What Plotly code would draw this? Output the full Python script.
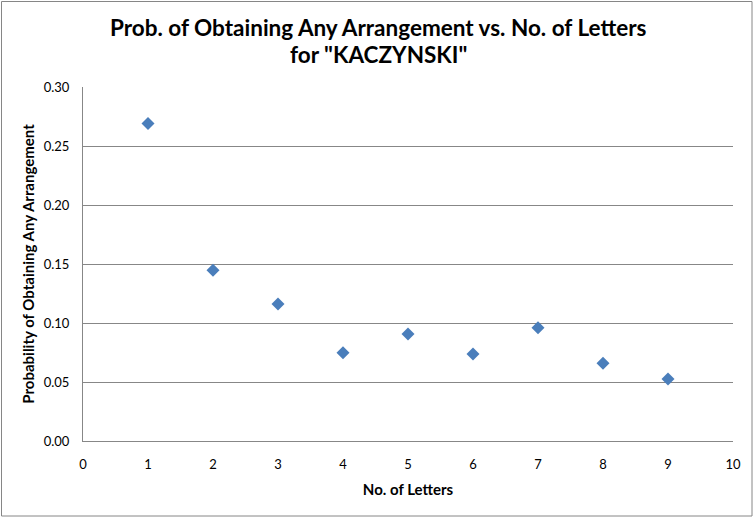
import plotly.graph_objects as go

letters = [1, 2, 3, 4, 5, 6, 7, 8, 9]
probability = [0.269, 0.1448, 0.116, 0.0748, 0.0906, 0.0737, 0.0959, 0.0658, 0.0525]
x_ticks = [0, 1, 2, 3, 4, 5, 6, 7, 8, 9, 10]
y_ticks = [0.00, 0.05, 0.10, 0.15, 0.20, 0.25, 0.30]

title_lines = ['Prob. of Obtaining Any Arrangement vs. No. of Letters', 'for "KACZYNSKI"']

W, H = 756, 518
L, R, T, B = 83, 23, 87, 77
pw, ph = W - L - R, H - T - B

fig = go.Figure()
fig.add_trace(go.Scatter(
    x=letters, y=probability, mode="markers",
    marker=dict(symbol="diamond", size=10, color="#4A7EBB",
                line=dict(width=0)),
    showlegend=False,
))

font_family = "Lato, 'Open Sans', sans-serif"
grid = "#878787"

annotations = []
for line_text, ypx in zip(title_lines, [27, 55]):
    annotations.append(dict(
        text=line_text, xref="paper", yref="paper",
        x=(378 - L) / pw, y=(H - B - ypx) / ph, xanchor="center", yanchor="middle",
        showarrow=False,
        font=dict(family=font_family, size=22.5, color="#000000", weight="bold"),
    ))

fig.update_layout(
    width=W, height=H,
    margin=dict(l=L, r=R, t=T, b=B, pad=0),
    paper_bgcolor="white", plot_bgcolor="white",
    font=dict(family=font_family, size=13, color="#000000"),
    annotations=annotations,
    xaxis=dict(
        range=[0, 10], tickvals=x_ticks, ticktext=[str(v) for v in x_ticks],
        showgrid=False, zeroline=False, showline=True, linecolor=grid, linewidth=1,
        ticks="", ticklabelstandoff=11,
        tickfont=dict(size=13, color="#000000"),
        title=dict(text="No. of Letters", standoff=13,
                   font=dict(size=15, weight="bold", color="#000000")),
    ),
    yaxis=dict(
        range=[0, 0.30], tickvals=y_ticks, ticktext=[f"{v:.2f}" for v in y_ticks],
        showgrid=True, gridcolor=grid, gridwidth=1,
        zeroline=False, showline=True, linecolor=grid, linewidth=1,
        ticks="inside", ticklen=5, tickcolor=grid, ticklabelstandoff=10,
        tickfont=dict(size=13, color="#000000"),
        title=dict(text="Probability of Obtaining Any Arrangement", standoff=5,
                   font=dict(size=15, weight="bold", color="#000000")),
    ),
    shapes=[dict(
        type="rect", xref="paper", yref="paper",
        x0=(1.5 - L) / pw, x1=(752 - L) / pw,
        y0=(H - B - 516) / ph, y1=(H - B - 1.5) / ph,
        line=dict(color="#868686", width=1), fillcolor="rgba(0,0,0,0)", layer="below",
    )],
)

fig.write_html("out.html", config={"displayModeBar": False},
               post_script="document.body.style.margin='0';document.body.style.overflow='hidden';")
